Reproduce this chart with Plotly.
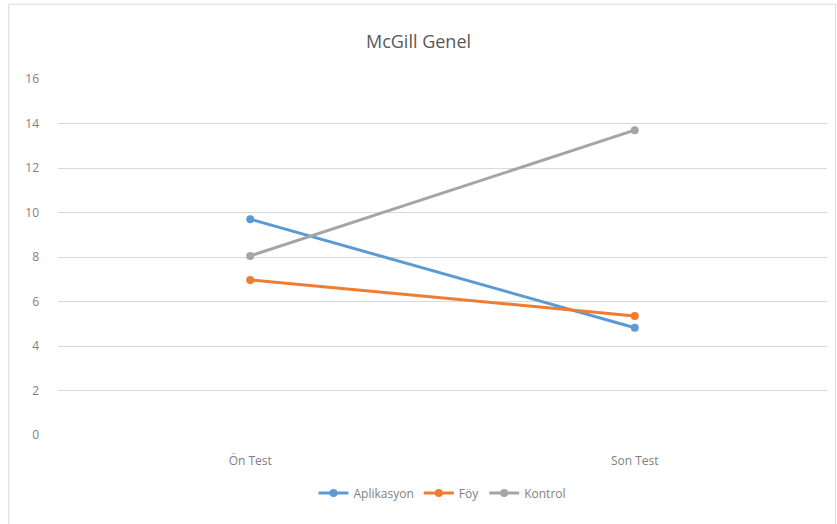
import plotly.graph_objects as go

categories = ["Ön Test", "Son Test"]
aplikasyon = [9.7, 4.82]
foy = [6.97, 5.35]
kontrol = [8.05, 13.7]
y_ticks = [0, 2, 4, 6, 8, 10, 12, 14, 16]

series = [
    ("Aplikasyon", aplikasyon, "#5B9BD5"),
    ("Föy", foy, "#ED7D31"),
    ("Kontrol", kontrol, "#A5A5A5"),
]

fig = go.Figure()
for name, values, color in series:
    fig.add_trace(go.Scatter(
        x=categories, y=values, name=name, mode="lines+markers",
        line=dict(color=color, width=3),
        marker=dict(color=color, size=8),
    ))

fig.update_layout(
    width=837, height=524,
    margin=dict(l=58, r=10, t=79, b=89),
    paper_bgcolor="white", plot_bgcolor="white",
    font=dict(family="Open Sans, Liberation Sans, sans-serif", color="#7F7F7F", size=12),
    title=dict(text="McGill Genel", x=0.5, xanchor="center", y=0.92, yanchor="middle",
               font=dict(size=18, color="#595959")),
    showlegend=True,
    legend=dict(orientation="h", x=0.5, xanchor="center", y=-0.163, yanchor="middle",
                font=dict(size=12, color="#7F7F7F"), itemwidth=30, tracegroupgap=0),
    xaxis=dict(type="category", range=[-0.5, 1.5], showgrid=False, zeroline=False,
               showline=False, ticks="", ticklabelstandoff=17,
               tickfont=dict(size=12, color="#7F7F7F")),
    yaxis=dict(range=[0, 16], tickvals=y_ticks, showgrid=True, gridcolor="#D9D9D9",
               gridwidth=1, zeroline=False, showline=False, ticks="",
               ticklabelstandoff=18, tickfont=dict(size=12, color="#7F7F7F")),
    shapes=[dict(type="rect", xref="paper", yref="paper",
                 x0=-0.064, x1=1.011, y0=-0.26, y1=1.21,
                 line=dict(color="#D9D9D9", width=1), fillcolor="rgba(0,0,0,0)",
                 layer="below")],
)

fig.write_html("out.html")
